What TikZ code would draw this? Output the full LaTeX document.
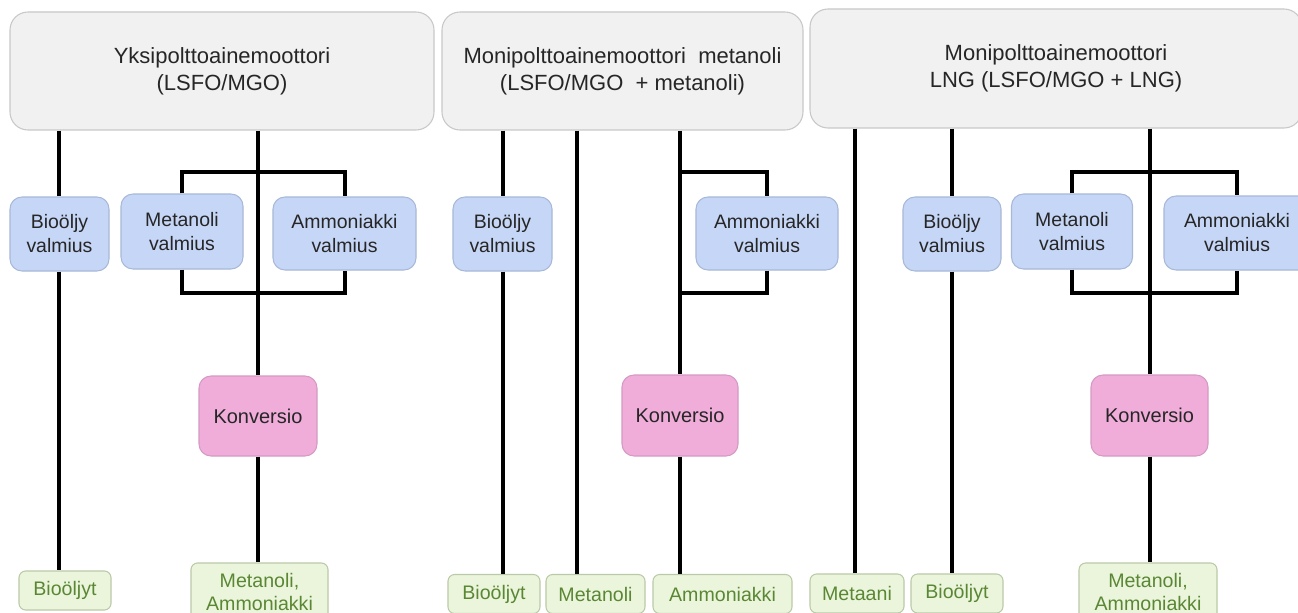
\documentclass[tikz,border=0pt]{standalone}
\usepackage{fontspec}
\setmainfont{Liberation Sans}
\definecolor{topfill}{HTML}{F1F1F1}
\definecolor{topdraw}{HTML}{C8C8C8}
\definecolor{bluefill}{HTML}{C6D6F6}
\definecolor{bluedraw}{HTML}{A8B8D8}
\definecolor{pinkfill}{HTML}{F0ADDA}
\definecolor{pinkdraw}{HTML}{D49AC4}
\definecolor{greenfill}{HTML}{EBF5DC}
\definecolor{greendraw}{HTML}{BAC9A8}
\definecolor{greentext}{HTML}{5A8734}
\definecolor{darktext}{HTML}{262626}
\tikzset{
  wh/.style 2 args={minimum width=#1*0.75pt, minimum height=#2*0.75pt},
  basebox/.style={rectangle, inner sep=0pt, align=center, line width=0.8pt},
  topbox/.style={basebox, fill=topfill, draw=topdraw, rounded corners=13.5pt,
    text=darktext, font={\fontsize{16.5}{20.25}\selectfont}},
  bluebox/.style={basebox, fill=bluefill, draw=bluedraw, rounded corners=9pt,
    text=darktext, font={\fontsize{14.6}{18}\selectfont}},
  pinkbox/.style={basebox, fill=pinkfill, draw=pinkdraw, rounded corners=9pt,
    text=darktext, font={\fontsize{15}{18}\selectfont}},
  greenbox/.style={basebox, fill=greenfill, draw=greendraw, rounded corners=5pt,
    text=greentext, font={\fontsize{14.7}{17.25}\selectfont}},
  conn/.style={line width=3pt, black}
}
\begin{document}
\begin{tikzpicture}[x=0.75pt, y=-0.75pt]
\useasboundingbox (0,0) rectangle (1298,613);
\clip (0,0) rectangle (1298,613);
\fill[white] (0,0) rectangle (1298,613);

% top boxes
\node[topbox, wh={424}{118}] (T1) at (222,71) {Yksipolttoainemoottori\\(LSFO/MGO)};
\node[topbox, wh={361}{118}] (T2) at (622.5,71) {Monipolttoainemoottori\ \ metanoli\\(LSFO/MGO\ \ + metanoli)};
\node[topbox, wh={492}{119}] (T3) at (1056,68.5) {Monipolttoainemoottori\\LNG (LSFO/MGO + LNG)};

% blue boxes
\node[bluebox, wh={99}{74}] (B1) at (59.5,234) {Bioöljy\\valmius};
\node[bluebox, wh={122}{75}] (M1) at (182,231.5) {Metanoli\\valmius};
\node[bluebox, wh={143}{73}] (A1) at (344.5,233.5) {Ammoniakki\\valmius};
\node[bluebox, wh={99}{74}] (B2) at (502.5,234) {Bioöljy\\valmius};
\node[bluebox, wh={142}{73}] (A2) at (767,233.5) {Ammoniakki\\valmius};
\node[bluebox, wh={98}{74}] (B3) at (952,234) {Bioöljy\\valmius};
\node[bluebox, wh={121}{75}] (M3) at (1072,231.5) {Metanoli\\valmius};
\node[bluebox, wh={146}{74}] (A3) at (1237,233) {Ammoniakki\\valmius};

% conversion boxes
\node[pinkbox, wh={118}{80}] (K1) at (258,416) {Konversio};
\node[pinkbox, wh={116}{81}] (K2) at (680,415.5) {Konversio};
\node[pinkbox, wh={117}{81}] (K3) at (1149.5,415.5) {Konversio};

% green result boxes
\node[greenbox, wh={92}{39}] (G1a) at (65,590.5) {Bioöljyt};
\node[greenbox, wh={137}{57}] (G1b) at (259.5,591.5) {Metanoli,\\Ammoniakki};
\node[greenbox, wh={92}{39}] (G2a) at (494,594) {Bioöljyt};
\node[greenbox, wh={99}{39}] (G2b) at (595.5,594) {Metanoli};
\node[greenbox, wh={139}{39}] (G2c) at (722.5,594) {Ammoniakki};
\node[greenbox, wh={94}{39}] (G3a) at (857,593.5) {Metaani};
\node[greenbox, wh={92}{39}] (G3b) at (957,593.5) {Bioöljyt};
\node[greenbox, wh={138}{57}] (G3c) at (1148,591.5) {Metanoli,\\Ammoniakki};

\coordinate (up) at (0,172);
\coordinate (dn) at (0,293);
\coordinate (c1) at (59,0);
\coordinate (c2) at (258,0);
\coordinate (c3) at (502.5,0);
\coordinate (c4) at (577,0);
\coordinate (c5) at (680,0);
\coordinate (c6) at (855,0);
\coordinate (c7) at (952,0);
\coordinate (c8) at (1149.5,0);

% column 1
\draw[conn] (c1 |- T1.south) -- (c1 |- B1.north);
\draw[conn] (c1 |- B1.south) -- (c1 |- G1a.north);
\draw[conn] (c2 |- T1.south) -- (c2 |- K1.north);
\draw[conn] (c2 |- K1.south) -- (c2 |- G1b.north);
\draw[conn] (M1.north) -- (M1.north |- up) -- (A1.north |- up) -- (A1.north);
\draw[conn] (M1.south) -- (M1.south |- dn) -- (A1.south |- dn) -- (A1.south);

% column 2
\draw[conn] (c3 |- T2.south) -- (c3 |- B2.north);
\draw[conn] (c3 |- B2.south) -- (c3 |- G2a.north);
\draw[conn] (c4 |- T2.south) -- (c4 |- G2b.north);
\draw[conn] (c5 |- T2.south) -- (c5 |- K2.north);
\draw[conn] (c5 |- K2.south) -- (c5 |- G2c.north);
\draw[conn] (c5 |- up) -- (A2.north |- up) -- (A2.north);
\draw[conn] (A2.south) -- (A2.south |- dn) -- (c5 |- dn);

% column 3
\draw[conn] (c6 |- T3.south) -- (c6 |- G3a.north);
\draw[conn] (c7 |- T3.south) -- (c7 |- B3.north);
\draw[conn] (c7 |- B3.south) -- (c7 |- G3b.north);
\draw[conn] (c8 |- T3.south) -- (c8 |- K3.north);
\draw[conn] (c8 |- K3.south) -- (c8 |- G3c.north);
\draw[conn] (M3.north) -- (M3.north |- up) -- (A3.north |- up) -- (A3.north);
\draw[conn] (M3.south) -- (M3.south |- dn) -- (A3.south |- dn) -- (A3.south);
\end{tikzpicture}
\end{document}
